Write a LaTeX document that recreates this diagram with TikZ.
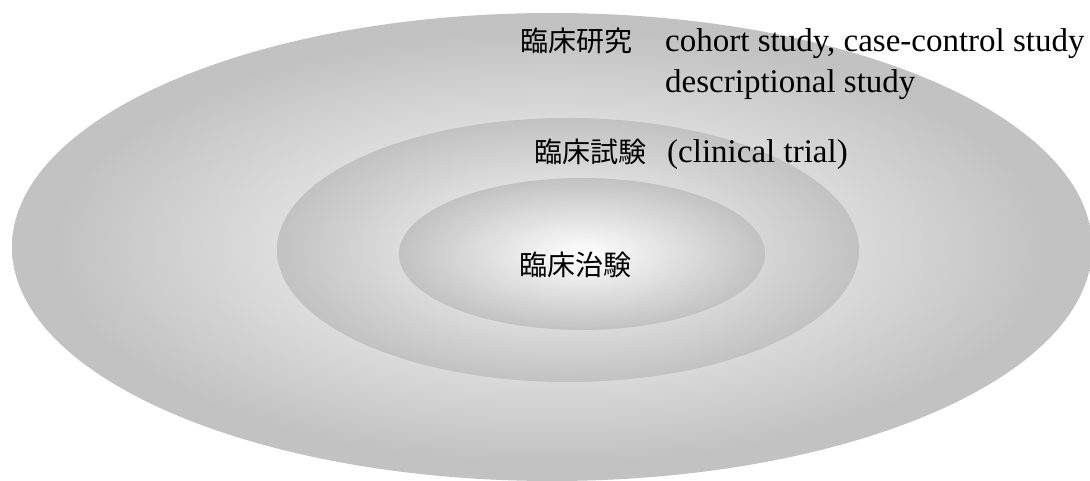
\documentclass[tikz,border=0pt]{standalone}
\usepackage{fontspec}
\setmainfont{Liberation Serif}
\newfontfamily\jpfont{Noto Sans CJK JP}
\usetikzlibrary{shapes.geometric}
\definecolor{edgegray}{HTML}{C2C2C2}
\pgfdeclareradialshading{outershade}{\pgfpoint{0bp}{0bp}}{color(0bp)=(white); color(23bp)=(edgegray); color(50bp)=(edgegray)}
\pgfdeclareradialshading{ringshade}{\pgfpoint{0bp}{0bp}}{color(0bp)=(white); color(25bp)=(edgegray); color(50bp)=(edgegray)}
\tikzset{
  zone/.style={ellipse, inner sep=0pt, draw=none},
  jp/.style={font=\jpfont\fontsize{28}{30}\selectfont, inner sep=0pt, anchor=base west},
  en/.style={font=\fontsize{33}{40}\selectfont, inner sep=0pt, anchor=base west}
}
\begin{document}
\begin{tikzpicture}[x=1pt,y=-1pt]
\useasboundingbox (0,0) rectangle (1090,481);
\node[zone, shading=outershade, minimum width=1080pt, minimum height=468pt] (outer) at (552,247) {};
\node[zone, shading=ringshade, minimum width=582pt, minimum height=264pt] (middle) at (568,250) {};
\node[zone, shading=ringshade, minimum width=366pt, minimum height=152pt] (inner) at (582,254) {};
\node[jp] (kenkyu) at (520,52) {臨床研究};
\node[en] (cohort) at (665,52) {cohort study, case-control study};
\node[en] (descr) at (665,93) {descriptional study};
\node[jp] (shiken) at (534,163) {臨床試験};
\node[en] (trial) at (667,163) {(clinical trial)};
\node[jp] (chiken) at (519,276) {臨床治験};
\end{tikzpicture}
\end{document}
